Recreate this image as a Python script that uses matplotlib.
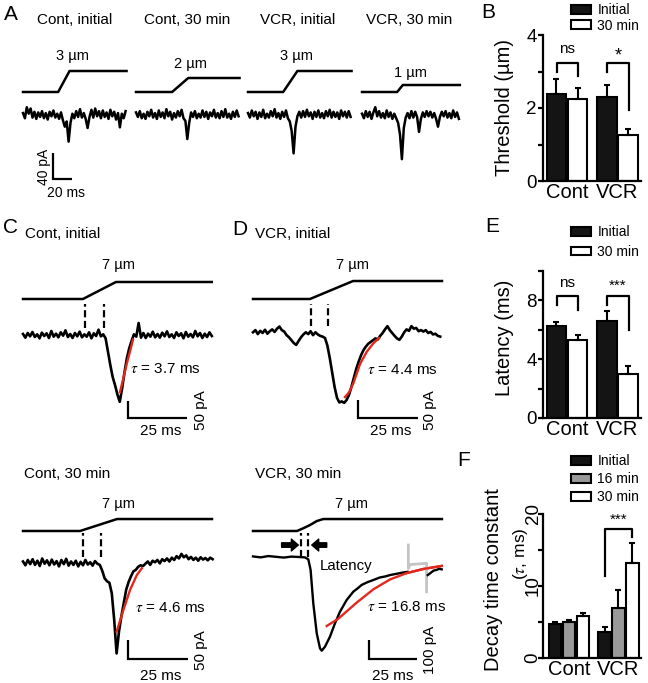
import numpy as np
import matplotlib.pyplot as plt
from matplotlib.patches import Patch

plt.rcParams['font.family'] = ['Liberation Sans', 'DejaVu Sans']
plt.rcParams['mathtext.fontset'] = 'stix'

W, H = 648, 683
RED = '#e2281d'

# ---------------- data ----------------
# A: responses to threshold steps, sampled every 2 ms (pA)
a_titles = ['Cont, initial', 'Cont, 30 min', 'VCR, initial', 'VCR, 30 min']
a_steps = [3, 2, 3, 1]                       # um
a_ramp = [(37, 49), (38, 55), (37, 52), (37, 43)]   # ramp start / end (ms)
a_len = [109, 109, 109, 103]                 # ms
a_cont_init = [3, -5, 12, 2, 10, -4, 5, -6, 4, -3, 6, -5, 3, -7, 5, -2, 7, -4, 2, -6,
               4, -8, -18, -10, -41, -12, 2, -5, 6, -3, 9, -4, 3, -6, -20, -3, 8, -4, 10, -2,
               6, -5, 7, -3, 4, -6, 8, -2, 5, -7, 3, -19, 2, -5, 6]
a_cont_30 = [4, -3, 6, -5, 2, -6, 5, -2, 8, -4, 3, -6, 7, -3, 4, -5, 9, -2, 5, -7,
             3, -4, 6, -2, 8, -5, -9, -37, -12, 4, -3, 6, -5, 2, -4, 7, -3, 5, -6, 4,
             -2, 8, -4, 3, -5, 6, -3, 9, -4, 2, -6, 5, -3, 7, -2]
a_vcr_init = [3, -4, 7, -2, 5, -6, 4, -3, 8, -5, 2, -4, 6, -2, 9, -4, 3, -6, 5, -3,
              7, -5, -10, -25, -59, -18, -2, 5, -4, 6, -3, 8, -2, 4, -6, 5, -3, 7, -4, 3,
              -5, 6, -2, 8, -4, 5, -3, 4, -6, 7, -2, 5, -4, 6, -3]
a_vcr_30 = [2, -5, 6, -3, 5, -6, 4, 12, -2, 6, -4, 3, -5, 7, -3, 4, -6, 2, -5, -12,
            -30, -68, -20, -4, 3, -5, 6, -4, 5, -3, -26, -6, 4, -3, 6, -2, 5, -4, 3, -6,
            -18, -3, 5, -2, 6, -4, 3, -5, 7, -3, 4, -6]
a_traces = [a_cont_init, a_cont_30, a_vcr_init, a_vcr_30]

# C / D: 7 um step responses, sampled every 1 ms (pA)
c1_trace = [3, -8, 6, -4, 9, -6, 2, -10, 7, -3, 5, -9, 12, -5, 4, -7, 8, -2, 14, -6,
            3, -9, 6, -4, 10, -7, 2, -5, 8, -10, 5, -3, 16, -4, 2,
            -10, -50, -90, -126, -150, -178, -200, -160, -112, -70, -40, -18, 2, -5, 36, -8,
            6, -9, 4, -5, 10, -7, 3, -8, 7, -4, 11, -6, 2, -9, 8, -3, 5, -10, 9, -5,
            3, -7, 12, -4, 6, -9, 4, -6, 8, -3]
d1_trace = [2, 8, -3, 6, 0, 9, -2, 5, 10, 3, 12,
            18, 8, 4, -6, -12, -20, -28,
            -33, -22, -12, -4, 2,
            -3, 5, -6, 2, -4, -8, -10, -14,
            -35, -70, -110, -150, -180, -193,
            -190, -194, -186, -172,
            -150, -125, -100, -80, -62, -48, -38,
            -30, -25, -20, -15, -18, -8, 0, 10,
            19, 8, 0, -8, -15, -19, -10,
            2, 10, 6, 19, 12, 14, 5, 8,
            4, 8, 0, 3, -4, -2, -8, -10]
c2_trace = [4, -6, 8, -3, 10, -5, 6, -8, 12, -2, 7, -6, 9, -4, 5, -9, 8, -3, 11, -7,
            4, -5, 6, -9, 3, -6, 8, -4, 2, -7, 5, -2,
            -5, -20, -40, -48, -52, -80, -150, -238, -180, -140, -105, -70, -50, -35, -22,
            -18, -10, -6, -8,
            -2, 4, -5, 6, 2, 8, -1, 10, 5, 12, 4, 14, 8, 18, 12, 24, 15, 20, 10, 16,
            8, 14, 6, 15, 9, 13, 7, 14, 10]
# VCR 30 min is smooth: explicit time points (ms)
d2_t = [0, 4, 8, 12, 16, 20, 24, 27, 28.8, 30, 31.4, 33.2, 34.9, 35.8, 37.5, 40.1,
        42.7, 45.3, 48.8, 52.3, 54.5, 56.6, 59.5, 62.7, 66, 69, 71.4, 75, 78, 80.5]
d2_i = [3, -2, 5, 1, -3, 2, 0, -2, -12, -68, -244, -402, -481, -493, -472, -419,
        -349, -288, -226, -182, -165, -147, -133, -121, -108, -102, -95, -88, -82, -78]
d2_t_end = [91, 92.2, 94, 95.6, 97, 98.3]
d2_i_end = [-95, -86, -72, -68, -62, -65]
d2_art_t = [80.9, 80.9, 81.8, 90.4, 90.4]
d2_art_i = [63, -60, -40, -33, -183]

# exponential decay fits (red)
c1_fit_t = [41.1, 42.5, 44.0, 45.5, 46.6]
c1_fit_i = [-171, -130, -85, -45, -14]
d1_fit_t = [38.3, 40, 41.8, 44.6, 47.4, 50.1, 52.5]
d1_fit_i = [-178, -165, -140, -86, -52, -29, -14]
c2_fit_t = [39, 41.8, 44.6, 47.4, 49.5]
c2_fit_i = [-181, -124, -71, -32, -14]
d2_fit_t = [38.4, 44.4, 54, 62.7, 71.4, 80, 88.7, 98.3]
d2_fit_i = [-363, -325, -240, -170, -118, -85, -63, -47]

# stimulus (um)
c1_stim_t = [0, 25.4, 39.4, 80]
d1_stim_t = [0, 23.75, 41.7, 78.75]
c2_stim_t = [0, 23.75, 39.2, 78.75]
cd_stim_d = [0, 0, 7, 7]
d2_stim_t = [0, 22.9, 26.2, 29.7, 33.2, 36.6, 98.4]
d2_stim_d = [0, 0, 1.6, 3.5, 5.8, 7, 7]

# latency markers (ms)
c1_lat = [26.3, 34.3]
d1_lat = [24.2, 31.25]
c2_lat = [25.0, 32.5]
d2_lat = [25.0, 28.6]

# B, E, F bar data (mean, +SEM)
groups = ['Cont', 'VCR']
thr_init, thr_init_err = [2.38, 2.29], [0.41, 0.34]
thr_30, thr_30_err = [2.25, 1.26], [0.31, 0.16]
lat_init, lat_init_err = [6.27, 6.60], [0.25, 0.68]
lat_30, lat_30_err = [5.31, 2.99], [0.34, 0.55]
tau_init, tau_init_err = [4.70, 3.56], [0.24, 0.74]
tau_16, tau_16_err = [5.03, 6.93], [0.27, 2.54]
tau_30, tau_30_err = [5.77, 13.26], [0.43, 2.74]

# ---------------- figure ----------------
fig = plt.figure(figsize=(W / 100, H / 100), dpi=100)


def ftext(x, y, s, **kw):
    fig.text(x / W, 1 - y / H, s, **kw)


def trace_ax(left, top, right, bottom, x0, y0, sx, sy):
    # axes in ms / pA (or um) whose origin sits at pixel (x0, y0)
    ax = fig.add_axes([left / W, 1 - bottom / H, (right - left) / W, (bottom - top) / H])
    ax.set_xlim((left - x0) / sx, (right - x0) / sx)
    ax.set_ylim((y0 - bottom) / sy, (y0 - top) / sy)
    ax.axis('off')
    return ax


def scalebar(ax, t, i, dt, di):
    ax.plot([t, t + dt, t + dt] if dt < 0 else [t, t, t + dt],
            [i, i, i + di] if dt < 0 else [i + di, i, i],
            color='k', lw=1.6, solid_joinstyle='miter', solid_capstyle='butt')


# ---- panel A ----
a_x0 = [23, 136, 248, 362]
for k in range(4):
    x0 = a_x0[k]
    ax = trace_ax(x0 - 10, 96, x0 + 112, 205, x0, 115, 0.95, 0.65)
    tr = a_traces[k]
    ax.plot(np.arange(len(tr)) * 2, tr, color='k', lw=1.8)
    if k == 0:
        scalebar(ax, 31.6, -98.5, 20, 40)
    sa = trace_ax(x0 - 10, 40, x0 + 112, 100, x0, 92, 0.95, 7)
    r0, r1 = a_ramp[k]
    sa.plot([0, r0, r1, a_len[k]], [0, 0, a_steps[k], a_steps[k]], color='k', lw=1.8)

for xc, s in zip([74.5, 187.5, 297.5, 409], a_titles):
    ftext(xc, 24, s, ha='center', va='baseline', fontsize=11)
for xc, yb, st in zip([73, 190, 297, 410], [60, 68, 60, 77], a_steps):
    ftext(xc, yb, f'{st} µm', ha='center', va='baseline', fontsize=10.5)
ftext(44, 167, '40 pA', rotation=90, ha='center', va='center', fontsize=10)
ftext(66, 197, '20 ms', ha='center', va='baseline', fontsize=10)

# ---- panels C / D ----
cd = [
    # trace, t, fit, stim_t, stim_d, lat, box, origin, sx, sy, stim origin y, stim sy, bar corner, bar pA
    (c1_trace, None, (c1_fit_t, c1_fit_i), c1_stim_t, cd_stim_d, c1_lat,
     (15, 290, 225, 445), (23, 335), 2.36, 0.334, 299, 2.43, (69.5, -248.5), 50, (21, 93)),
    (d1_trace, None, (d1_fit_t, d1_fit_i), d1_stim_t, cd_stim_d, d1_lat,
     (245, 290, 450, 445), (253, 333), 2.4, 0.36, 299, 2.57, (68.75, -236), 50, (19, 80)),
    (c2_trace, None, (c2_fit_t, c2_fit_i), c2_stim_t, cd_stim_d, c2_lat,
     (15, 525, 225, 690), (23, 563), 2.4, 0.38, 531, 1.71, (68.75, -252.6), 50, (16, 79)),
    (d2_i, d2_t, (d2_fit_t, d2_fit_i), d2_stim_t, d2_stim_d, d2_lat,
     (245, 525, 450, 690), (253, 557), 1.92, 0.19, 531, 1.71, (85.4, -537), 100, (0, 126)),
]
cd_axes = []
for (tr, tt, fit, st_t, st_d, lat, box, org, sx, sy, sy0, ssy, corner, bar_pa, lat_i) in cd:
    ax = trace_ax(*box, org[0], org[1], sx, sy)
    t = np.arange(len(tr)) if tt is None else tt
    ax.plot(t, tr, color='k', lw=1.9 if tt is None else 1.7)
    ax.plot(fit[0], fit[1], color=RED, lw=1.7)
    for tl in lat:
        ax.plot([tl, tl], lat_i, color='k', lw=1.6, ls=(0, (3.2, 1.6)))
    scalebar(ax, corner[0], corner[1], -25, bar_pa)
    sa = trace_ax(box[0], box[1] - 45, box[2], box[1] + 15, org[0], sy0, sx, ssy)
    sa.plot(st_t, st_d, color='k', lw=1.8)
    cd_axes.append(ax)

# VCR 30 min: tail after the artefact, artefact in grey, latency arrows
ax = cd_axes[3]
ax.plot(d2_art_t, d2_art_i, color='#c4c4c4', lw=2)
ax.plot(d2_t_end, d2_i_end, color='k', lw=1.7)
ax.plot(d2_fit_t[-3:], d2_fit_i[-3:], color=RED, lw=1.7)
arrow = dict(facecolor='k', edgecolor='k', width=3.2, headwidth=8.5, headlength=5, shrink=0)
ax.annotate('', xy=(23.6, 63), xytext=(14.9, 63), arrowprops=arrow)
ax.annotate('', xy=(30.6, 63), xytext=(38.4, 63), arrowprops=arrow)
ftext(320, 570, 'Latency', ha='left', va='baseline', fontsize=10.8)

for x, y, s in [(25, 238, 'Cont, initial'), (255, 238, 'VCR, initial'),
                (24, 478, 'Cont, 30 min'), (255, 478, 'VCR, 30 min')]:
    ftext(x, y, s, ha='left', va='baseline', fontsize=11)
for x, y in [(118.5, 269), (352.5, 269), (118.5, 508), (351.5, 508)]:
    ftext(x, y, '7 µm', ha='center', va='baseline', fontsize=10.5)
for x, y, v in [(130, 373, '3.7'), (367, 374, '4.4'), (135, 612, '4.6'), (367, 611, '16.8')]:
    ftext(x, y, r'$\tau$ = ' + v + ' ms', ha='left', va='baseline', fontsize=11)
for x, y in [(161, 435), (391, 435), (161, 680), (393, 680)]:
    ftext(x, y, '25 ms', ha='center', va='baseline', fontsize=11)
for x, y, s in [(201.5, 410, '50 pA'), (430, 410, '50 pA'), (201.5, 650, '50 pA'), (430, 650, '100 pA')]:
    ftext(x, y, s, rotation=90, ha='center', va='center', fontsize=11)

# panel letters
for x, y, s in [(11, 14.5, 'A'), (488, 12.5, 'B'), (10.5, 227.5, 'C'), (239.5, 230, 'D'),
                (492, 227, 'E'), (464, 461, 'F')]:
    ftext(x, y, s, ha='center', va='center', fontsize=15)


# ---- bar panels ----
def bar_ax(top, bottom, ymax, ticks, ticklabels, xlim):
    ax = fig.add_axes([543 / W, 1 - bottom / H, 98 / W, (bottom - top) / H])
    ax.set_xlim(*xlim)
    ax.set_ylim(0, ymax)
    for s in ['top', 'right']:
        ax.spines[s].set_visible(False)
    for s in ['left', 'bottom']:
        ax.spines[s].set_linewidth(1.6)
    ax.set_yticks(ticks, ticklabels)
    ax.tick_params(axis='y', direction='out', length=3.5, width=1.6, labelsize=13.5, pad=1)
    ax.tick_params(axis='x', length=0, labelsize=14.5, pad=1.5)
    ax.set_xticks([0, 1], groups)
    return ax


def bars(ax, x, vals, err, color, w):
    ax.bar(x, vals, w, color=color, edgecolor='k', linewidth=1.5,
           yerr=[np.zeros(len(err)), err], capsize=2.5,
           error_kw=dict(elinewidth=1.5, capthick=1.5, ecolor='k'))


def bracket(ax, x1, x2, y1, top, y2, label, ly, size=11):
    ax.plot([x1, x1, x2, x2], [y1, top, top, y2], color='k', lw=1.6)
    ax.text((x1 + x2) / 2, ly, label, ha='center', va='baseline', fontsize=size)


xg = np.arange(2)
# B
ax = bar_ax(35, 181, 4, [0, 1, 2, 3, 4], ['0', '', '2', '', '4'], (-0.475, 1.465))
bars(ax, xg - 0.21, thr_init, thr_init_err, '#141414', 0.385)
bars(ax, xg + 0.21, thr_30, thr_30_err, 'white', 0.385)
bracket(ax, -0.2, 0.21, 3.0, 3.23, 2.88, 'ns', 3.5)
bracket(ax, 0.8, 1.22, 3.0, 3.23, 1.95, '*', 3.3, size=13)
ax.set_ylabel('Threshold (µm)', fontsize=14.5, va='center')
ax.yaxis.set_label_coords((504 - 543) / 98, (181 - 107) / 146)
ax.legend(handles=[Patch(fc='#141414', ec='k', lw=1.5, label='Initial'),
                   Patch(fc='white', ec='k', lw=1.5, label='30 min')],
          loc='upper left', bbox_to_anchor=(571 / W, 1 - 3 / H), bbox_transform=fig.transFigure,
          frameon=False, fontsize=10, handlelength=1.45, handleheight=0.6,
          handletextpad=0.45, labelspacing=0.12, borderpad=0, borderaxespad=0)

# E
ax = bar_ax(271, 418, 10, [0, 2, 4, 6, 8, 10], ['0', '', '4', '', '8', ''], (-0.475, 1.465))
bars(ax, xg - 0.21, lat_init, lat_init_err, '#141414', 0.385)
bars(ax, xg + 0.21, lat_30, lat_30_err, 'white', 0.385)
bracket(ax, -0.2, 0.21, 7.7, 8.27, 7.37, 'ns', 8.9)
bracket(ax, 0.8, 1.22, 7.7, 8.27, 6.0, '***', 8.75)
ax.set_ylabel('Latency (ms)', fontsize=14.5, va='center')
ax.yaxis.set_label_coords((505 - 543) / 98, (418 - 338) / 147)
ax.legend(handles=[Patch(fc='#141414', ec='k', lw=1.5, label='Initial'),
                   Patch(fc='white', ec='k', lw=1.5, label='30 min')],
          loc='upper left', bbox_to_anchor=(571 / W, 1 - 225 / H), bbox_transform=fig.transFigure,
          frameon=False, fontsize=10, handlelength=1.45, handleheight=0.6,
          handletextpad=0.45, labelspacing=0.42, borderpad=0, borderaxespad=0)

# F
ax = bar_ax(514, 658, 20, [0, 5, 10, 15, 20], ['0', '', '10', '', '20'], (-0.525, 1.455))
bars(ax, xg - 0.28, tau_init, tau_init_err, '#141414', 0.25)
bars(ax, xg, tau_16, tau_16_err, '#999999', 0.25)
bars(ax, xg + 0.28, tau_30, tau_30_err, 'white', 0.25)
bracket(ax, 0.72, 1.28, 11.4, 17.9, 16.8, '***', 18.7)
ax.tick_params(axis='y', labelrotation=90, pad=-2.5)
for lab in ax.get_yticklabels():
    lab.set_va('center')
ftext(493, 580, 'Decay time constant', rotation=90, ha='center', va='center', fontsize=14.5)
ftext(520, 554, r'($\tau$, ms)', rotation=90, ha='center', va='center', fontsize=12.5)
ax.legend(handles=[Patch(fc='#141414', ec='k', lw=1.5, label='Initial'),
                   Patch(fc='#999999', ec='k', lw=1.5, label='16 min'),
                   Patch(fc='white', ec='k', lw=1.5, label='30 min')],
          loc='upper left', bbox_to_anchor=(571 / W, 1 - 454 / H), bbox_transform=fig.transFigure,
          frameon=False, fontsize=10, handlelength=1.45, handleheight=0.6,
          handletextpad=0.45, labelspacing=0.3, borderpad=0, borderaxespad=0)

fig.savefig('out.png', dpi=100)
